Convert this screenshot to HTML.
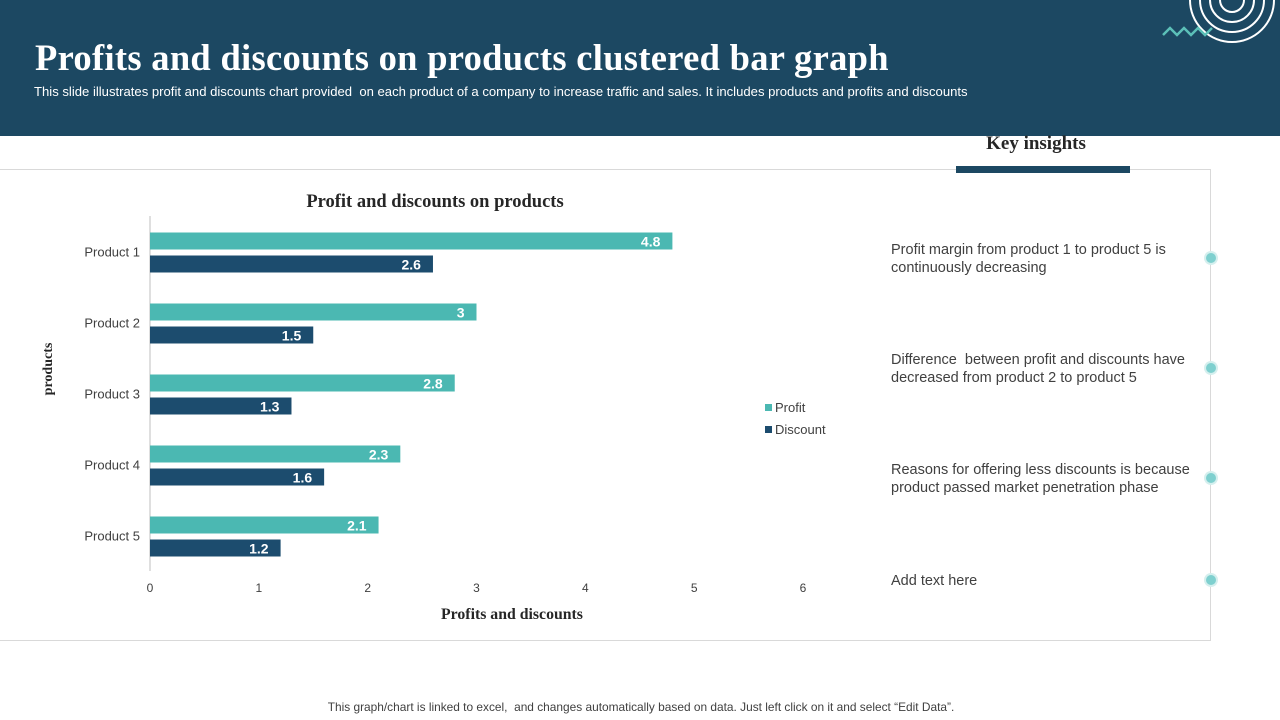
<!DOCTYPE html>
<html><head><meta charset="utf-8"><style>
body{margin:0;width:1280px;height:720px;position:relative;overflow:hidden;background:#fff;font-family:"Liberation Sans",sans-serif}
.hdr{position:absolute;left:0;top:0;width:1280px;height:136px;background:#1c4862}
h1{position:absolute;left:35px;top:36px;margin:0;font-family:"Liberation Serif",serif;font-size:36.5px;color:#fff;font-weight:bold;letter-spacing:.3px}
.sub{position:absolute;left:34px;top:84px;font-size:13.1px;color:#fff}
.ins{position:absolute;left:891px;font-size:14.5px;color:#404040;line-height:18px}
.dot{position:absolute;left:1206px;width:10px;height:10px;border-radius:50%;background:#7fd0cf;box-shadow:0 0 0 2px #d5efee}
</style></head><body>
<div class="hdr">
<h1>Profits and discounts on products clustered bar graph</h1>
<div class="sub">This slide illustrates profit and discounts chart provided &nbsp;on each product of a company to increase traffic and sales. It includes products and profits and discounts</div>
<svg style="position:absolute;left:1160px;top:0" width="120" height="50">
<g fill="none" stroke="#fff" stroke-width="2"><circle cx="72" cy="0" r="12"/><circle cx="72" cy="0" r="22"/><circle cx="72" cy="0" r="32"/><circle cx="72" cy="0" r="42"/></g>
<polyline points="3,35 10,28 17,35 24,28 31,35 38,28 45,35 52,28" fill="none" stroke="#5cc0b8" stroke-width="2.5"/>
</svg>
</div>
<div style="position:absolute;left:0;top:169px;width:1210px;height:470px;border-top:1px solid #d9d9d9;border-right:1px solid #d9d9d9;border-bottom:1px solid #d9d9d9"></div>
<div style="position:absolute;left:946px;top:133px;width:180px;text-align:center;font-family:'Liberation Serif',serif;font-weight:bold;font-size:19px;color:#262626">Key insights</div>
<div style="position:absolute;left:956px;top:166px;width:174px;height:7px;background:#1c4862"></div>
<div class="ins" style="top:241px">Profit margin from product 1 to product 5 is<br>continuously decreasing</div>
<div class="ins" style="top:351px">Difference &nbsp;between profit and discounts have<br>decreased from product 2 to product 5</div>
<div class="ins" style="top:461px">Reasons for offering less discounts is because<br>product passed market penetration phase</div>
<div class="ins" style="top:572px">Add text here</div>
<div class="dot" style="top:253px"></div>
<div class="dot" style="top:363px"></div>
<div class="dot" style="top:473px"></div>
<div class="dot" style="top:575px"></div>
<svg id="chart" style="position:absolute;left:0;top:0" width="880" height="640"></svg>
<div style="position:absolute;left:0;top:700px;width:1280px;text-align:center;font-size:11.9px;color:#404040;padding-left:1px">This graph/chart is linked to excel, &nbsp;and changes automatically based on data. Just left click on it and select “Edit Data”.</div>
<script>
const categories=["Product 1","Product 2","Product 3","Product 4","Product 5"];
const profit=[4.8,3,2.8,2.3,2.1];
const discount=[2.6,1.5,1.3,1.6,1.2];
const ticks=[0,1,2,3,4,5,6];
const svg=document.getElementById('chart');const NS='http://www.w3.org/2000/svg';
function mk(t,a,txt){const e=document.createElementNS(NS,t);for(const k in a)e.setAttribute(k,a[k]);if(txt!==undefined)e.textContent=txt;svg.appendChild(e);return e;}
const x0=150,x1=803,yTop=216,yBot=571;
const xs=v=>x0+(v-ticks[0])/(ticks[ticks.length-1]-ticks[0])*(x1-x0);
const band=(yBot-yTop)/categories.length;
const yc=i=>yTop+band*i+band/2;
let e;
e=mk('text',{x:435,y:207,'text-anchor':'middle','font-family':'Liberation Serif','font-weight':'bold','font-size':18.5,fill:'#262626'},'Profit and discounts on products');

e=mk('line',{x1:x0,y1:yTop,x2:x0,y2:yBot,stroke:'#bfbfbf'});

ticks.forEach(t=>{e=mk('text',{x:xs(t),y:592,'text-anchor':'middle','font-size':12,fill:'#404040'},t);
});
categories.forEach((c,i)=>{
e=mk('text',{x:140,y:yc(i)+5,'text-anchor':'end','font-size':13,fill:'#404040'},c);

const h=17;
[[profit[i],'#4bb8b2',yc(i)-19,'bar-profit'],[discount[i],'#1c4c6e',yc(i)+4,'bar-discount']].forEach(([v,col,y,n])=>{
e=mk('rect',{x:x0,y:y,width:xs(v)-x0,height:h,fill:col});

e=mk('text',{x:xs(v)-12,y:y+14,'text-anchor':'end','font-size':14,'font-weight':'bold',fill:'#fff'},v);

});
});
e=mk('text',{x:512,y:619,'text-anchor':'middle','font-family':'Liberation Serif','font-weight':'bold','font-size':15.8,fill:'#262626'},'Profits and discounts');

e=mk('text',{x:52,y:369,'text-anchor':'middle','font-family':'Liberation Serif','font-weight':'bold','font-size':14,fill:'#262626',transform:'rotate(-90 52 369)'},'products');

[['Profit','#4bb8b2',411],['Discount','#1c4c6e',433]].forEach(([l,c,y])=>{
e=mk('rect',{x:765,y:y-7,width:7,height:7,fill:c});

e=mk('text',{x:775,y:y+1,'font-size':13,fill:'#404040'},l);

});
</script>
</body></html>
